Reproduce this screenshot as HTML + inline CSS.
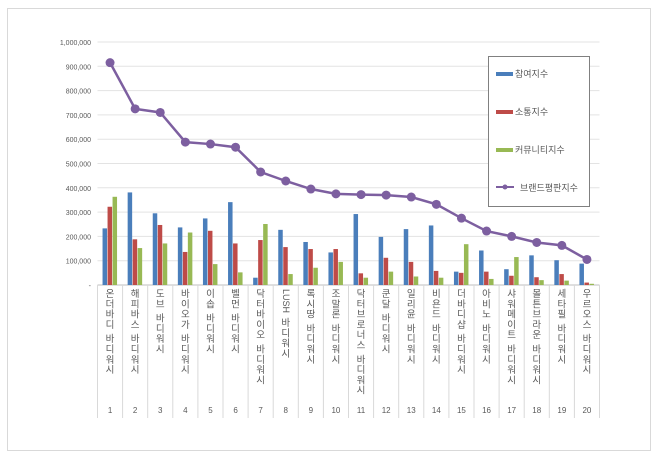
<!DOCTYPE html>
<html><head><meta charset="utf-8"><style>
body{margin:0;background:#fff;}
svg{display:block;font-family:"Liberation Sans","Noto Sans CJK KR",sans-serif;}
</style></head><body>
<svg id="chart" width="660" height="460">
<rect x="7.5" y="8.5" width="643" height="442" fill="#fff" stroke="#d9d9d9"/>
<g id="grid"></g><g id="bars"></g><g id="line"></g><g id="xaxis"></g><g id="yaxis"></g>
<g>
<rect x="488.5" y="56.5" width="101" height="150" fill="#fff" stroke="#808080"/>
<g><rect x="496" y="72" width="17" height="4" fill="#4a7ebb"/><text x="515" y="77" font-size="9" fill="#595959">참여지수</text></g>
<g><rect x="496" y="110" width="17" height="4" fill="#be4b48"/><text x="515" y="115" font-size="9" fill="#595959">소통지수</text></g>
<g><rect x="496" y="148" width="17" height="4" fill="#98b954"/><text x="515" y="153" font-size="9" fill="#595959">커뮤니티지수</text></g>
<g><line x1="496" y1="187" x2="514" y2="187" stroke="#7d5fa0" stroke-width="2"/><circle cx="505" cy="187" r="2.5" fill="#7d5fa0"/><text x="520" y="191" font-size="9" fill="#595959">브랜드평판지수</text></g>
</g>
</svg>
<script>
const categories=["온더바디 바디워시","해피바스 바디워시","도브 바디워시","바이오가 바디워시","이솝 바디워시","벨먼 바디워시","닥터바이오 바디워시","LUSH 바디워시","록시땅 바디워시","조말론 바디워시","닥터브로너스 바디워시","쿤달 바디워시","일리윤 바디워시","비욘드 바디워시","더바디샵 바디워시","아비노 바디워시","샤워메이트 바디워시","몰튼브라운 바디워시","세타필 바디워시","우르오스 바디워시"];
const participation=[233000,381000,295000,237000,274000,341000,30000,227000,177000,134000,292000,198000,230000,245000,55000,142000,65000,122000,102000,88000];
const communication=[322000,188000,247000,136000,223000,171000,185000,156000,148000,148000,48000,112000,95000,58000,50000,55000,38000,32000,45000,10000];
const community=[363000,152000,171000,216000,86000,52000,251000,45000,71000,95000,30000,55000,35000,30000,168000,25000,115000,20000,18000,5000];
const brand=[915000,725000,710000,588000,580000,567000,465000,428000,395000,375000,372000,370000,362000,332000,275000,222000,200000,175000,163000,105000];
const yTicks=[0,100000,200000,300000,400000,500000,600000,700000,800000,900000,1000000];
const yTickLabels=["-","100,000","200,000","300,000","400,000","500,000","600,000","700,000","800,000","900,000","1,000,000"];
const NS="http://www.w3.org/2000/svg";
const X0=97.5,X1=599.5,Y0=285,Y1=42,YMAX=1000000;
const bw=(X1-X0)/categories.length;
const y=v=>Y0-(v/YMAX)*(Y0-Y1);
const xc=i=>X0+bw*(i+0.5);
function mk(p,t,a){const e=document.createElementNS(NS,t);for(const k in a)e.setAttribute(k,a[k]);p.appendChild(e);return e;}
const grid=document.getElementById('grid'),yax=document.getElementById('yaxis');
yTicks.forEach((v,i)=>{
 const l=mk(grid,'line',{x1:X0,x2:X1,y1:y(v),y2:y(v),stroke:i==0?'#bfbfbf':'#e3e3e3','stroke-width':1});
 
 
 const t=mk(yax,'text',{x:91,y:y(v)+3,'text-anchor':'end','font-size':7,fill:'#595959'});
 t.textContent=yTickLabels[i];
 
 
});
const bars=document.getElementById('bars');
const series=[[participation,'#4a7ebb','bar-participation'],[communication,'#be4b48','bar-communication'],[community,'#98b954','bar-community']];
categories.forEach((c,i)=>{
 series.forEach((s,j)=>{
  const v=s[0][i];
  const r=mk(bars,'rect',{x:xc(i)-7.5+j*5,y:y(v),width:4.5,height:Y0-y(v),fill:s[1]});
  
  
 });
});
const lg=document.getElementById('line');
const pts=brand.map((v,i)=>xc(i)+','+y(v)).join(' ');
const pl=mk(lg,'polyline',{points:pts,fill:'none',stroke:'#7d5fa0','stroke-width':2.5});


brand.forEach((v,i)=>{
 const c=mk(lg,'circle',{cx:xc(i),cy:y(v),r:4.5,fill:'#7d5fa0'});
 
 
});
const xa=document.getElementById('xaxis');
for(let i=0;i<=categories.length;i++){
 const l=mk(xa,'line',{x1:X0+bw*i,x2:X0+bw*i,y1:Y0,y2:418,stroke:'#d9d9d9'});
 
 
}
categories.forEach((c,i)=>{
 const words=c.split(' ');
 let yy=297;
 words.forEach((w,wi)=>{
  if(/^[A-Z]+$/.test(w)){
   const t=mk(xa,'text',{x:xc(i)-3,y:yy-8,'font-size':9,fill:'#595959',transform:`rotate(90 ${xc(i)-3} ${yy-8})`});
   t.textContent=w;
   
   
   yy+=w.length*6+1;
  } else {
   [...w].forEach(ch=>{
    const t=mk(xa,'text',{x:xc(i),y:yy,'text-anchor':'middle','font-size':9.5,fill:'#595959'});
    t.textContent=ch;
    
    
    yy+=10.3;
   });
  }
  yy+=4;
 });
 const n=mk(xa,'text',{x:xc(i),y:413,'text-anchor':'middle','font-size':8,fill:'#595959'});
 n.textContent=String(i+1);
 
 
});
</script>
</body></html>
